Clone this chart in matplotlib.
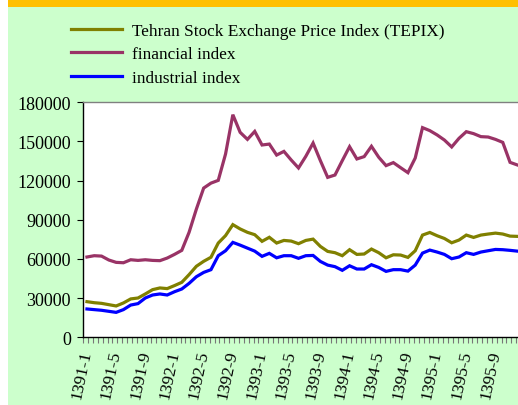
import numpy as np
import matplotlib
matplotlib.use('Agg')
import matplotlib.pyplot as plt
from matplotlib.patches import Rectangle

# monthly categories 1391-1 .. 1395-12
months = ['%d-%d' % (y, m) for y in range(1391, 1396) for m in range(1, 13)]

tepix = [27300, 26500, 26000, 25000, 24000, 26300, 29400, 30100, 33200, 36500,
         37800, 37300, 39600, 42100, 48000, 54400, 58200, 61300, 72200, 77900,
         86300, 83000, 80400, 78600, 73500, 76600, 72200, 74200, 73700, 71700,
         74200, 75200, 69600, 65800, 64800, 62500, 67100, 63500, 63800, 67600,
         64800, 60900, 63200, 63000, 61200, 66300, 78300, 80300, 77800, 75700,
         72400, 74500, 78300, 76500, 78300, 79100, 79800, 79100, 77500, 77300]

financial = [61500, 62500, 62200, 59200, 57400, 57100, 59400, 58900, 59400, 58900,
             58700, 60700, 63500, 66600, 80400, 98200, 114300, 118100, 120200, 140400,
             170500, 157000, 151600, 157700, 147300, 148000, 139600, 142400, 135800, 129700,
             138600, 148800, 135300, 122500, 124300, 135300, 146000, 136600, 138400, 146300,
             137900, 131500, 133800, 129900, 126100, 137300, 160600, 158300, 155000, 151100,
             145800, 152400, 157500, 156000, 153700, 153400, 151600, 149300, 134000, 132000]

industrial = [21700, 21200, 20700, 19900, 19100, 21200, 24700, 25800, 30100, 32400,
              33200, 32400, 34900, 37000, 41300, 46400, 49700, 51800, 62500, 66300,
              72700, 70600, 68300, 66000, 62000, 64300, 60900, 62500, 62500, 60500,
              62500, 62700, 58100, 55300, 54100, 51300, 54800, 52300, 52300, 55600,
              53500, 50500, 51800, 51800, 50700, 55300, 64500, 66800, 65300, 63500,
              60200, 61500, 64800, 63500, 65300, 66300, 67300, 67100, 66600, 66000]

names = ['Tehran Stock Exchange Price Index (TEPIX)', 'financial index', 'industrial index']
colors = ['#808000', '#993366', '#0000FF']

plt.rcParams['font.family'] = ['Liberation Serif', 'DejaVu Serif']

W, H = 518, 406
fig = plt.figure(figsize=(W / 100, H / 100), dpi=100, facecolor='white')
# green panel and orange band
fig.patches.append(Rectangle((8 / W, 0), 1, (H - 8) / H, transform=fig.transFigure,
                             facecolor='#CCFFCC', edgecolor='none', zorder=-2))
fig.patches.append(Rectangle((8 / W, (H - 8) / H), 1, 8 / H, transform=fig.transFigure,
                             facecolor='#FFC000', edgecolor='none', zorder=-2))

ax = fig.add_axes([83.3 / W, 1 - 338.3 / H, (521 - 83.3) / W, (338.3 - 103.3) / H])
ax.set_facecolor('white')

x = np.arange(len(months))
for vals, name, c in zip([tepix, financial, industrial], names, colors):
    ax.plot(x, vals, color=c, lw=2.3, label=name, solid_joinstyle='miter')

ax.set_xlim(-0.5, len(months) - 0.5)
ax.set_ylim(0, 180000)
ax.set_yticks(np.arange(0, 180001, 30000))
ax.tick_params(axis='y', direction='out', length=4, width=0.8, labelsize=13, pad=5)

lab_pos = x[::4]
ax.set_xticks(lab_pos)
ax.set_xticklabels([months[i] for i in lab_pos], rotation=78, fontsize=12.5,
                   ha='right', va='center', rotation_mode='anchor')
ax.tick_params(axis='x', which='major', length=0, pad=9)
ax.set_xticks(np.arange(-0.5, len(months), 2 / 3), minor=True)
ax.tick_params(axis='x', which='minor', direction='out', length=4, width=0.8, color='#777777')

for s in ['left', 'bottom']:
    ax.spines[s].set_color('black')
    ax.spines[s].set_linewidth(1.0)
ax.spines['top'].set_color('#808080')
ax.spines['top'].set_linewidth(1.0)
ax.spines['right'].set_visible(False)

leg = fig.legend(loc='upper left', bbox_to_anchor=(55 / W, 1 - 8 / H), frameon=False,
                 fontsize=12.4, handlelength=3.0, handletextpad=0.55, labelspacing=0.45)
for h in leg.get_lines():
    h.set_linewidth(2.3)

fig.savefig('out.png', dpi=100, facecolor=fig.get_facecolor())
